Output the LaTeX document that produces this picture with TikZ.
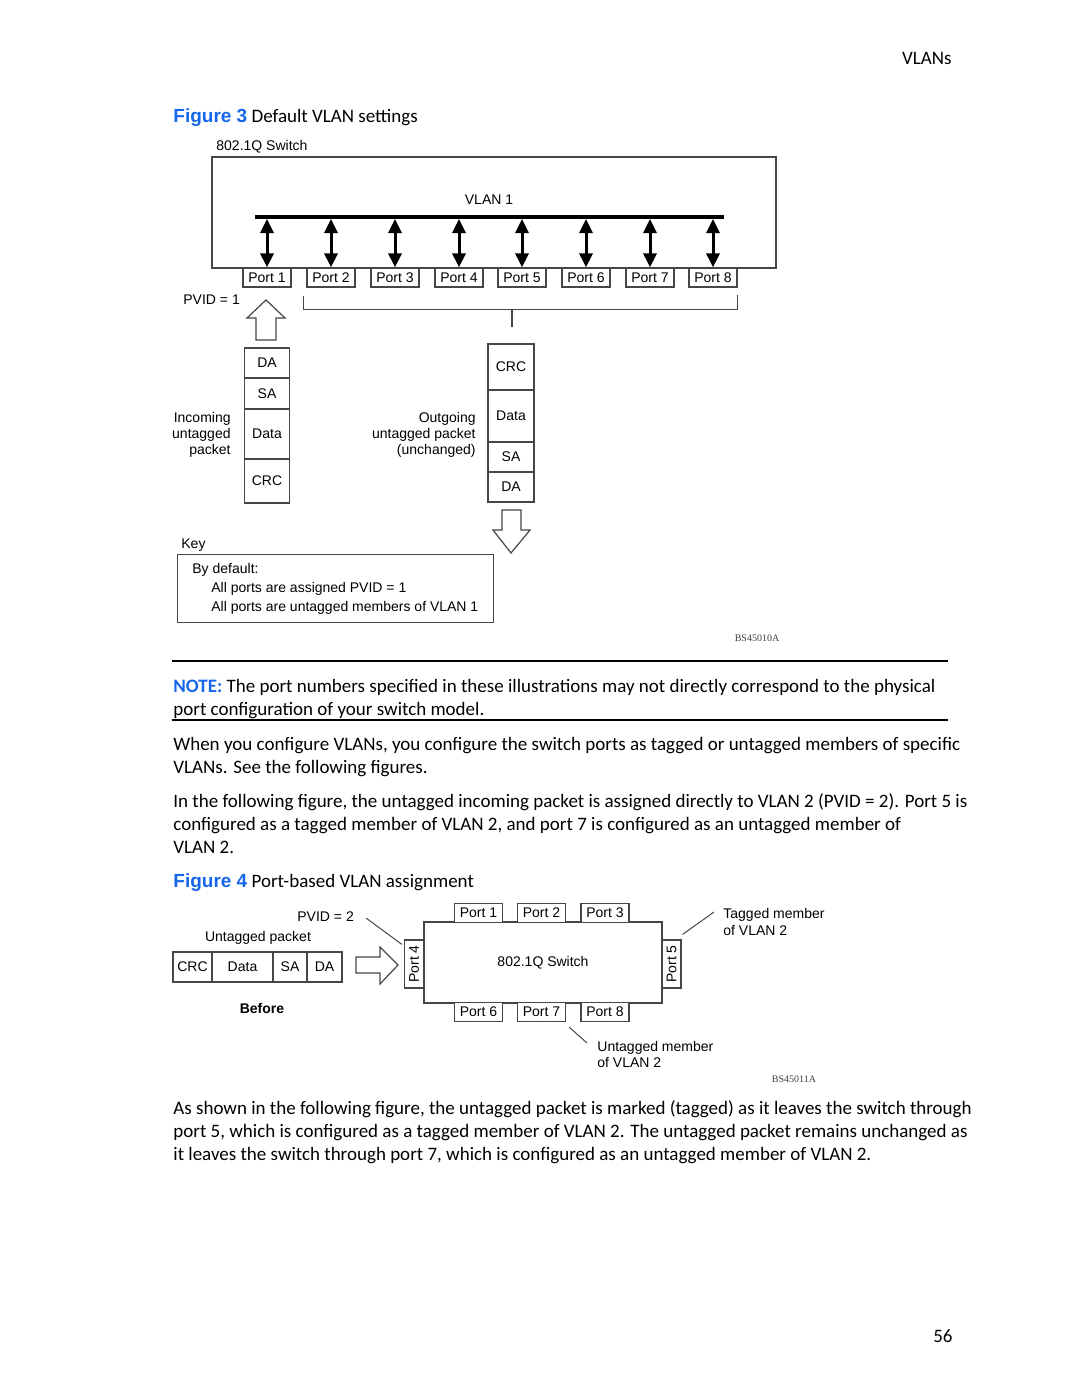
\documentclass[tikz,border=0pt]{standalone}
\usepackage{fontspec}
\setmainfont{Carlito}
\newfontfamily\figfont{Liberation Sans}
\newfontfamily\idfont{Liberation Serif}
\usetikzlibrary{arrows.meta, positioning}
\definecolor{hpblue}{RGB}{22,102,235}
\definecolor{linegray}{RGB}{70,70,70}
\tikzstyle{body} = [anchor=base west, inner sep=0pt, font=\fontsize{9.5}{11}\selectfont]
\tikzstyle{lbl} = [inner sep=0pt, font=\figfont\fontsize{7}{8}\selectfont]
\tikzstyle{port} = [draw=linegray, line width=0.6pt, fill=white, minimum width=24pt, minimum height=9.5pt, inner sep=0pt, font=\figfont\fontsize{7}{8}\selectfont]
\tikzstyle{field} = [draw=linegray, line width=0.6pt, inner sep=0pt, outer sep=0pt, font=\figfont\fontsize{7}{8}\selectfont]
\tikzstyle{dbl} = [line width=1.5pt, {Triangle[length=7pt,width=6.5pt]}-{Triangle[length=7pt,width=6.5pt]}]
\tikzstyle{hollow} = [draw=linegray, line width=0.6pt, fill=white]
\tikzstyle{leader} = [draw=linegray, line width=0.5pt]
\tikzstyle{figid} = [inner sep=0pt, font=\idfont\fontsize{5}{6}\selectfont, text=black!75]

\begin{document}
\begin{tikzpicture}[x=0.5pt,y=-0.5pt]
  \fill[white] (0,0) rectangle (1080,1397);
  \useasboundingbox (0,0) rectangle (1080,1397);

  % page header and caption
  \node (hdr) [body, anchor=base east] at (952,64) {VLANs};
  \node (cap3) [body] at (173,122) {{\figfont\bfseries\color{hpblue}Figure 3} Default VLAN settings};

  % figure 3: switch with VLAN 1
  \node (swlbl) [lbl, anchor=base west] at (216,150) {802.1Q Switch};
  \node (sw1) [draw=linegray, line width=0.6pt, minimum width=282pt, minimum height=55.5pt] at (494,212.5) {};
  \node (vlan1) [lbl] at (489,200) {VLAN 1};
  \coordinate (busL) at (255,217);
  \coordinate (busR) at (724,217);
  \draw [line width=2pt] (busL) -- (busR);
  \foreach \i/\x in {1/267,2/331,3/395,4/459,5/522,6/586,7/650,8/713} {
    \node (port\i) [port] at (\x,277.5) {Port \i};
    \draw [dbl, shorten <=1pt] (port\i.north |- busL) -- (port\i.north);
  }
  \draw [leader, line width=0.6pt] ([xshift=-1.5pt,yshift=-4pt]port2.south west) |- ([xshift=0pt,yshift=-11pt]port8.south east) -- ([yshift=-3.5pt]port8.south east);
  \draw [leader, line width=0.6pt] (512,309) -- (512,327);
  \node (pvid1) [lbl, anchor=base west] at (183,304) {PVID = 1};

  % incoming packet
  \draw [hollow] (256,340) -- (256,318) -- (247,318) -- (266,300) -- (285,318) -- (276,318) -- (276,340) -- cycle;
  \node (inDA) [field, minimum width=22.5pt, minimum height=15pt, anchor=north] at (267,348) {DA};
  \node (inSA) [field, minimum width=22.5pt, minimum height=15.5pt, below=0pt of inDA] {SA};
  \node (inData) [field, minimum width=22.5pt, minimum height=25pt, below=0pt of inSA] {Data};
  \node (inCRC) [field, minimum width=22.5pt, minimum height=22pt, below=0pt of inData] {CRC};
  \node (inlbl) [lbl, align=right, anchor=base east] at (231,454) {Incoming\\untagged\\packet};

  % outgoing packet
  \node (outCRC) [field, minimum width=23pt, minimum height=23pt, anchor=north] at (511,344) {CRC};
  \node (outData) [field, minimum width=23pt, minimum height=26pt, below=0pt of outCRC] {Data};
  \node (outSA) [field, minimum width=23pt, minimum height=15pt, below=0pt of outData] {SA};
  \node (outDA) [field, minimum width=23pt, minimum height=15pt, below=0pt of outSA] {DA};
  \node (outlbl) [lbl, align=right, anchor=base east] at (476,454) {Outgoing\\untagged packet\\(unchanged)};
  \draw [hollow] (502,510) -- (502,530) -- (493,530) -- (511,553) -- (530,530) -- (521,530) -- (521,510) -- cycle;

  % key
  \node (key) [lbl, anchor=base west] at (181,548) {Key};
  \node (keybox) [draw=linegray, line width=0.6pt, minimum width=158pt, minimum height=34pt] at (335.5,588.5) {};
  \node (key1) [lbl, anchor=base west] at (192,573) {By default:};
  \node (key2) [lbl, anchor=base west] at (211,592) {All ports are assigned PVID = 1};
  \node (key3) [lbl, anchor=base west] at (211,611) {All ports are untagged members of VLAN 1};
  \node (id3) [figid] at (757,638) {BS45010A};

  % note
  \draw [line width=1pt] (172,661) -- (948,661);
  \node (note1) [body] at (173,692) {{\bfseries\color{hpblue}NOTE:} The port numbers specified in these illustrations may not directly correspond to the physical};
  \node (note2) [body] at (173,715) {port configuration of your switch model.};
  \draw [line width=0.7pt] (172,720) -- (948,720);

  % text
  \node (par1a) [body] at (173,750) {When you configure VLANs, you configure the switch ports as tagged or untagged members of specific};
  \node (par1b) [body] at (173,773) {VLANs. See the following figures.};
  \node (par2a) [body] at (173,807) {In the following figure, the untagged incoming packet is assigned directly to VLAN 2 (PVID = 2). Port 5 is};
  \node (par2b) [body] at (173,830) {configured as a tagged member of VLAN 2, and port 7 is configured as an untagged member of};
  \node (par2c) [body] at (173,853) {VLAN 2.};
  \node (cap4) [body] at (173,887) {{\figfont\bfseries\color{hpblue}Figure 4} Port-based VLAN assignment};

  % figure 4: port-based assignment
  \node (sw2) [draw=linegray, line width=0.6pt, minimum width=119pt, minimum height=40.5pt, font=\figfont\fontsize{7}{8}\selectfont] at (543,962.5) {802.1Q Switch};
  \node (q1) [port] at (478.5,913) {Port 1};
  \node (q2) [port] at (541.5,913) {Port 2};
  \node (q3) [port] at (605,913) {Port 3};
  \node (q6) [port] at (478.5,1012) {Port 6};
  \node (q7) [port] at (541.5,1012) {Port 7};
  \node (q8) [port] at (605,1012) {Port 8};
  \node (q4) [port, rotate=90] at (414,964) {Port 4};
  \node (q5) [port, rotate=90] at (671.5,964) {Port 5};

  \node (pktlbl) [lbl] at (258,938) {Untagged packet};
  \node (f1) [field, minimum width=19.5pt, minimum height=15pt, anchor=west] at (173,967) {CRC};
  \node (f2) [field, minimum width=30.5pt, minimum height=15pt, right=0pt of f1] {Data};
  \node (f3) [field, minimum width=17pt, minimum height=15pt, right=0pt of f2] {SA};
  \node (f4) [field, minimum width=17.5pt, minimum height=15pt, right=0pt of f3] {DA};
  \node (before) [lbl, font=\figfont\bfseries\fontsize{7}{8}\selectfont] at (262,1008) {Before};
  \draw [hollow] (356,957) -- (380,957) -- (380,947) -- (398,965) -- (380,984) -- (380,973) -- (356,973) -- cycle;

  \node (pvid2) [lbl, anchor=base west] at (297,921) {PVID = 2};
  \draw [leader] ([xshift=6pt,yshift=-1pt]pvid2.east) -- ([xshift=-1pt,yshift=-2.5pt]q4.north east);
  \node (tag) [lbl, align=left, anchor=base west, font=\figfont\fontsize{7}{8.5}\selectfont] at (723,935) {Tagged member\\of VLAN 2};
  \draw [leader] ([shift={(0.5pt,2.5pt)}]q5.south east) -- ([shift={(-4.5pt,11.5pt)}]tag.base west);
  \node (untag) [lbl, align=left, anchor=base west] at (597,1067) {Untagged member\\of VLAN 2};
  \draw [leader] ([shift={(1.5pt,-2.5pt)}]q7.south east) -- ([shift={(-5pt,12pt)}]untag.base west);
  \node (id4) [figid] at (794,1079) {BS45011A};

  % closing text
  \node (par3a) [body] at (173,1114) {As shown in the following figure, the untagged packet is marked (tagged) as it leaves the switch through};
  \node (par3b) [body] at (173,1137) {port 5, which is configured as a tagged member of VLAN 2. The untagged packet remains unchanged as};
  \node (par3c) [body] at (173,1160) {it leaves the switch through port 7, which is configured as an untagged member of VLAN 2.};
  \node (pgno) [body, anchor=base east] at (953,1342) {56};
\end{tikzpicture}
\end{document}
